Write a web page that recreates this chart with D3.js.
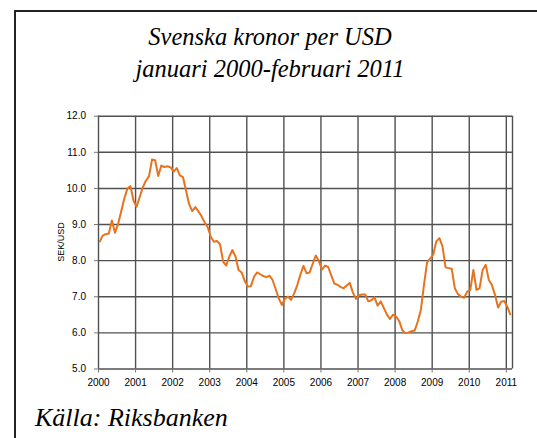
<!DOCTYPE html>
<html lang="sv">
<head>
<meta charset="utf-8">
<title>Svenska kronor per USD</title>
<script src="https://d3js.org/d3.v7.min.js"></script>
<style>
  body { margin: 0; background: #fff; }
  .title, .source { font-family: "Liberation Serif", "Times New Roman", serif; font-style: italic; fill: #000; }
  .axis text { font-family: "Liberation Sans", Arial, sans-serif; font-size: 10px; fill: #000; }
  .axis path { display: none; }
  .axis line { stroke: #777; }
  .grid line { stroke: #505050; stroke-width: 1.4px; }
  .grid path { display: none; }
  .line { fill: none; stroke: #e8731e; stroke-width: 2px; stroke-linejoin: round; }
</style>
</head>
<body>
<svg width="537" height="438"></svg>
<script>
// SEK per USD, monthly, Jan 2000 - Feb 2011
var sek2000 = [8.50, 8.68, 8.72, 8.74, 9.10, 8.76, 9.00, 9.35, 9.70, 9.98, 10.05, 9.65];
var sek2001 = [9.48, 9.75, 10.02, 10.20, 10.32, 10.79, 10.77, 10.33, 10.62, 10.58, 10.60, 10.57];
var sek2002 = [10.45, 10.55, 10.35, 10.30, 9.92, 9.55, 9.36, 9.47, 9.35, 9.22, 9.05, 8.92];
var sek2003 = [8.65, 8.51, 8.53, 8.44, 7.96, 7.85, 8.10, 8.28, 8.10, 7.73, 7.66, 7.42];
var sek2004 = [7.27, 7.28, 7.54, 7.66, 7.61, 7.56, 7.53, 7.57, 7.45, 7.20, 6.94, 6.76];
var sek2005 = [6.93, 6.99, 6.90, 7.08, 7.31, 7.60, 7.84, 7.64, 7.66, 7.90, 8.13, 7.97];
var sek2006 = [7.74, 7.85, 7.81, 7.58, 7.35, 7.32, 7.26, 7.22, 7.30, 7.37, 7.10, 6.93];
var sek2007 = [7.03, 7.05, 7.05, 6.86, 6.89, 6.97, 6.74, 6.86, 6.68, 6.50, 6.37, 6.49];
var sek2008 = [6.44, 6.31, 6.06, 5.98, 6.00, 6.03, 6.05, 6.30, 6.62, 7.31, 7.94, 8.04];
var sek2009 = [8.15, 8.52, 8.61, 8.38, 7.80, 7.78, 7.76, 7.22, 7.06, 6.99, 6.96, 7.13];
var sek2010 = [7.18, 7.73, 7.18, 7.22, 7.73, 7.87, 7.45, 7.31, 7.04, 6.69, 6.85, 6.87];
var sek2011 = [6.71, 6.48];

var years = ["2000", "2001", "2002", "2003", "2004", "2005", "2006", "2007", "2008", "2009", "2010", "2011"];
var yTicks = [5, 6, 7, 8, 9, 10, 11, 12];

var values = [].concat(sek2000, sek2001, sek2002, sek2003, sek2004, sek2005,
                       sek2006, sek2007, sek2008, sek2009, sek2010, sek2011);

var svg = d3.select("svg");

// frame
svg.append("path")
    .attr("d", "M15,438V11H537")
    .attr("fill", "none")
    .attr("stroke", "#222")
    .attr("stroke-width", 2);

svg.append("text").attr("class", "title")
    .attr("x", 270).attr("y", 45)
    .attr("text-anchor", "middle")
    .style("font-size", "24.5px")
    .text("Svenska kronor per USD");
svg.append("text").attr("class", "title")
    .attr("x", 270).attr("y", 77)
    .attr("text-anchor", "middle")
    .style("font-size", "24.5px")
    .text("januari 2000-februari 2011");

var x = d3.scaleLinear().domain([0, values.length]).range([98, 512]),
    y = d3.scaleLinear().domain([5, 12]).range([368.5, 115.7]);

var yearIdx = years.map(function(d, i) { return i * 12; });

// gridlines
svg.append("g").attr("class", "grid")
    .attr("transform", "translate(98,0)")
    .call(d3.axisLeft(y).tickValues(yTicks).tickSize(-(512 - 98)).tickFormat(""));
svg.append("g").attr("class", "grid")
    .attr("transform", "translate(0,368.5)")
    .call(d3.axisBottom(x).tickValues(yearIdx.concat([values.length])).tickSize(-(368.5 - 115.7)).tickFormat(""));

// axes
svg.append("g").attr("class", "axis")
    .attr("transform", "translate(98,0)")
    .call(d3.axisLeft(y).tickValues(yTicks).tickSize(4).tickPadding(8).tickFormat(d3.format(".1f")));
svg.append("g").attr("class", "axis")
    .attr("transform", "translate(0,368.5)")
    .call(d3.axisBottom(x).tickValues(yearIdx).tickSize(4).tickPadding(6)
        .tickFormat(function(d) { return years[d / 12]; }));

svg.append("text")
    .attr("transform", "translate(64,242) rotate(-90)")
    .attr("text-anchor", "middle")
    .style("font", "9px 'Liberation Sans', Arial, sans-serif")
    .text("SEK/USD");

var line = d3.line()
    .x(function(d, i) { return x(i + 0.5); })
    .y(function(d) { return y(d); });

svg.append("path")
    .datum(values)
    .attr("class", "line")
    .attr("d", line);

svg.append("text").attr("class", "source")
    .attr("x", 35).attr("y", 426)
    .style("font-size", "26px")
    .text("Källa: Riksbanken");
</script>
</body>
</html>
